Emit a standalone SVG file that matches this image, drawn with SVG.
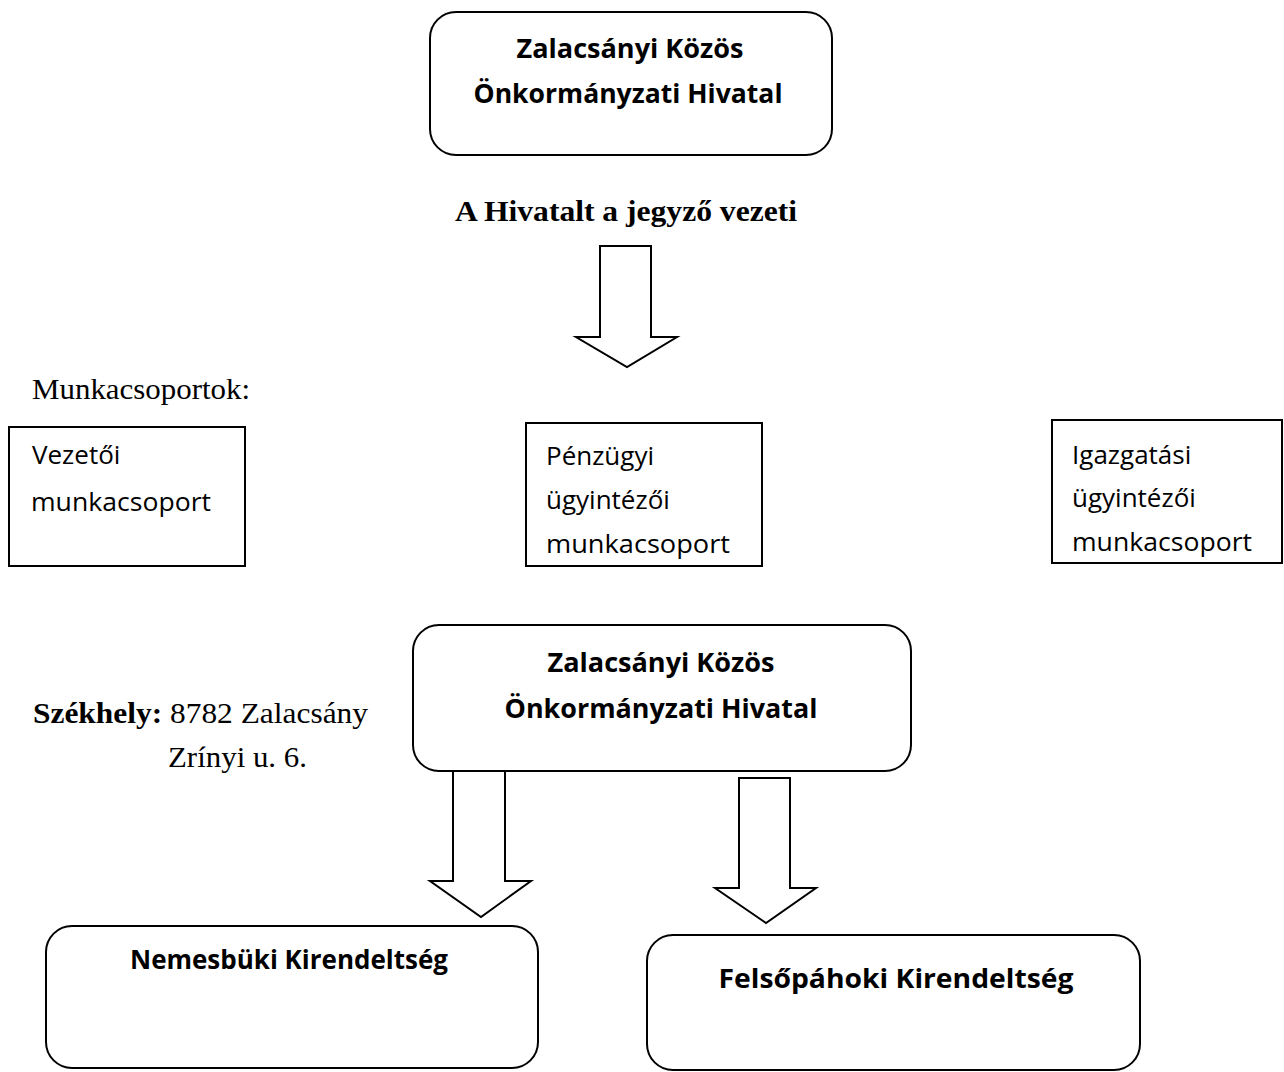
<svg xmlns="http://www.w3.org/2000/svg" width="1284" height="1072" viewBox="0 0 1284 1072">
<style>
.box{fill:#fff;stroke:#000;stroke-width:2}
.arr{fill:#fff;stroke:#000;stroke-width:2;stroke-linejoin:miter}
.hb{font-family:"Open Sans","Noto Sans",sans-serif;font-weight:bold;font-size:27px;fill:#000;text-anchor:middle}
.hr{font-family:"Open Sans","Noto Sans",sans-serif;font-size:26px;fill:#000}
.tm{font-family:"Liberation Serif","Times New Roman",serif;font-size:29px;fill:#000}
</style>
<rect width="1284" height="1072" fill="#fff"/>
<g id="top">
<rect class="box" x="430" y="12" width="402" height="143" rx="26"/>
<text class="hb" x="630" y="58" textLength="227" lengthAdjust="spacingAndGlyphs">Zalacsányi Közös</text>
<text class="hb" x="628" y="103" textLength="309" lengthAdjust="spacingAndGlyphs">Önkormányzati Hivatal</text>
</g>
<text class="tm" x="626" y="221" text-anchor="middle" font-weight="bold" textLength="342" lengthAdjust="spacingAndGlyphs">A Hivatalt a jegyző vezeti</text>
<text class="tm" x="32" y="399" textLength="218" lengthAdjust="spacingAndGlyphs">Munkacsoportok:</text>
<g id="vezetoi">
<rect class="box" x="9" y="427" width="236" height="139"/>
<text class="hr" x="32" y="464">Vezetői</text>
<text class="hr" x="31" y="511" textLength="180" lengthAdjust="spacingAndGlyphs">munkacsoport</text>
</g>
<g id="penzugyi">
<rect class="box" x="526" y="423" width="236" height="143"/>
<text class="hr" x="546" y="465">Pénzügyi</text>
<text class="hr" x="546" y="509">ügyintézői</text>
<text class="hr" x="546" y="553" textLength="184" lengthAdjust="spacingAndGlyphs">munkacsoport</text>
</g>
<g id="igazgatasi">
<rect class="box" x="1052" y="420" width="230" height="143"/>
<text class="hr" x="1072" y="464">Igazgatási</text>
<text class="hr" x="1072" y="507">ügyintézői</text>
<text class="hr" x="1072" y="551" textLength="180" lengthAdjust="spacingAndGlyphs">munkacsoport</text>
</g>
<text class="tm" x="33" y="723" textLength="335" lengthAdjust="spacingAndGlyphs"><tspan font-weight="bold">Székhely:</tspan> 8782 Zalacsány</text>
<text class="tm" x="168" y="767" textLength="139" lengthAdjust="spacingAndGlyphs">Zrínyi u. 6.</text>
<g id="middle">
<rect class="box" x="413" y="625" width="498" height="146" rx="26"/>
<text class="hb" x="661" y="672" textLength="227" lengthAdjust="spacingAndGlyphs">Zalacsányi Közös</text>
<text class="hb" x="661" y="718" textLength="313" lengthAdjust="spacingAndGlyphs">Önkormányzati Hivatal</text>
</g>
<g id="nemesbuki">
<rect class="box" x="46" y="926" width="492" height="142" rx="26"/>
<text class="hb" x="289" y="969" textLength="318" lengthAdjust="spacingAndGlyphs">Nemesbüki Kirendeltség</text>
</g>
<g id="felsopahoki">
<rect class="box" x="647" y="935" width="493" height="135" rx="26"/>
<text class="hb" x="896" y="988" textLength="355" lengthAdjust="spacingAndGlyphs">Felsőpáhoki Kirendeltség</text>
</g>
<g id="connectors">
<path class="arr" d="M600,246 H651 V337 H677 L627,367 L576,337 H600 Z"/>
<path class="arr" d="M453,771 H505 V881 H531 L481,917 L430,881 H453 Z"/>
<path class="arr" d="M739,778 H790 V888 H816 L766,923 L715,888 H739 Z"/>
</g>
</svg>
